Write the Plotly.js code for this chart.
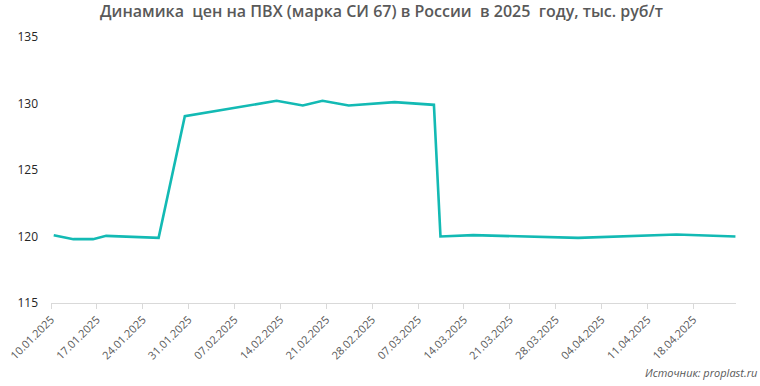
<!DOCTYPE html>
<html>
<head>
<meta charset="utf-8">
<script src="https://cdn.plot.ly/plotly-3.0.1.min.js"></script>
<style>html,body{margin:0;padding:0;background:#fff;}#chart{width:760px;height:386px;}</style>
</head>
<body>
<div id="chart"></div>
<script>
const dates = ['2025-01-10','2025-01-13','2025-01-16','2025-01-18','2025-01-26','2025-01-30','2025-02-13','2025-02-17','2025-02-20','2025-02-24','2025-03-03','2025-03-09','2025-03-10','2025-03-15','2025-03-31','2025-04-15','2025-04-24'];
const prices = [120.1,119.8,119.8,120.05,119.9,129.05,130.2,129.85,130.2,129.85,130.1,129.9,120.0,120.1,119.9,120.15,120.0];
const tickDates = ['2025-01-10','2025-01-17','2025-01-24','2025-01-31','2025-02-07','2025-02-14','2025-02-21','2025-02-28','2025-03-07','2025-03-14','2025-03-21','2025-03-28','2025-04-04','2025-04-11','2025-04-18'];
const tickLabels = ['10.01.2025','17.01.2025','24.01.2025','31.01.2025','07.02.2025','14.02.2025','21.02.2025','28.02.2025','07.03.2025','14.03.2025','21.03.2025','28.03.2025','04.04.2025','11.04.2025','18.04.2025'];
const yTicks = [115,120,125,130,135];
const titleText = 'Динамика  цен на ПВХ (марка СИ 67) в России  в 2025  году, тыс. руб/т';
const sourceText = 'Источник: proplast.ru';

// date-axis ticks sit at the start of each day slot, points slightly inside it
const SLOT_SHIFT = 10 * 3600 * 1000;
const tickVals = tickDates.map(d => new Date(new Date(d + 'T00:00:00Z').getTime() - SLOT_SHIFT).toISOString().replace('T',' ').slice(0,19));

const trace = {
  x: dates, y: prices, type: 'scatter', mode: 'lines',
  line: {color: '#13bab4', width: 2.6},
  hoverinfo: 'skip', cliponaxis: false
};

const layout = {
  width: 760, height: 386,
  margin: {l: 51, r: 24, t: 37, b: 83},
  paper_bgcolor: '#ffffff', plot_bgcolor: '#ffffff',
  showlegend: false,
  font: {family: 'Open Sans, sans-serif'},
  title: {text: titleText, x: 0.502, xanchor: 'center', y: 0.985, yanchor: 'top',
          font: {family: 'Open Sans, sans-serif', size: 16, color: '#595959', weight: 600}},
  xaxis: {
    type: 'date',
    range: [tickVals[0], '2025-04-24 02:00'],
    tickmode: 'array', tickvals: tickVals, ticktext: tickLabels,
    tickangle: -45,
    showgrid: false, zeroline: false,
    showline: true, linecolor: '#d9d9d9', linewidth: 1,
    ticks: 'outside', ticklen: 5, tickcolor: '#d9d9d9', tickwidth: 1,
    tickfont: {family: 'Open Sans, sans-serif', size: 11, color: '#595959'}
  },
  yaxis: {
    range: [115, 135],
    tickvals: yTicks,
    showgrid: false, zeroline: false, showline: false,
    ticks: '', ticklabelstandoff: 12,
    tickfont: {family: 'Open Sans, sans-serif', size: 12, color: '#262626'}
  },
  annotations: [{
    text: sourceText, xref: 'paper', yref: 'paper', x: 1.034, y: -0.262,
    xanchor: 'right', yanchor: 'middle', showarrow: false,
    font: {family: 'Open Sans, sans-serif', size: 11, color: '#595959', style: 'italic'}
  }]
};

Plotly.newPlot('chart', [trace], layout, {displayModeBar: false, staticPlot: true});
</script>
</body>
</html>
